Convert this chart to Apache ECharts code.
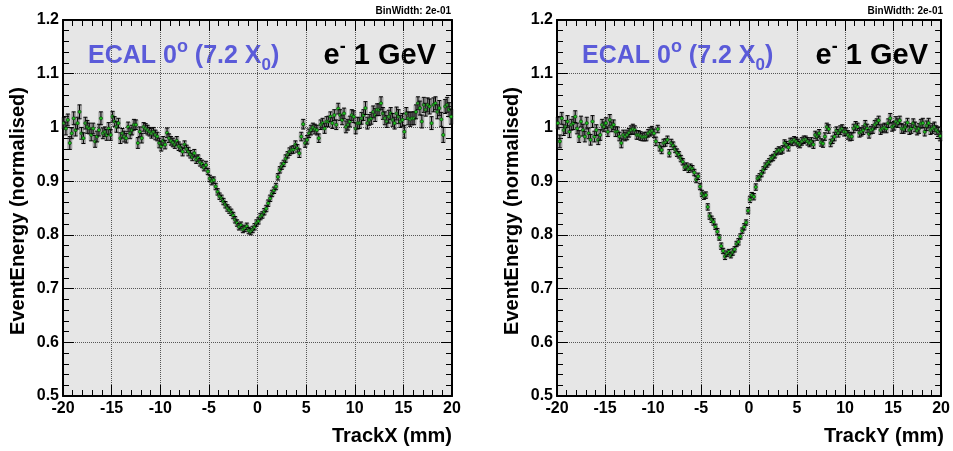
<!DOCTYPE html>
<html><head><meta charset="utf-8">
<script src="https://cdn.jsdelivr.net/npm/echarts@6/dist/echarts.min.js"></script>
<style>html,body{margin:0;padding:0;background:#fff}#c{width:953px;height:451px}</style>
</head><body><div id="c"></div>
<script>
const xMin = -20, xMax = 20, binWidth = 0.2;
const xInterval = 5;
const yMin = 0.5, yMax = 1.2, yInterval = 0.1;
const xTitleLeft = 'TrackX (mm)';
const xTitleRight = 'TrackY (mm)';
const yTitle = 'EventEnergy (normalised)';
const binLabel = 'BinWidth: 2e-01';

// EventEnergy vs TrackX (left panel)
const energyX = [
1.008,0.998,1.014,0.971,0.989,1.017,0.995,1.008,1.029,0.989,
0.980,1.008,1.001,0.998,0.986,0.998,0.974,0.983,0.995,1.017,
0.989,0.992,0.986,0.998,0.986,1.020,1.011,1.001,1.008,0.980,
0.989,0.983,0.980,1.001,0.989,0.995,1.005,1.005,0.971,0.992,
0.980,1.001,0.998,0.995,0.992,0.989,0.992,0.986,0.983,0.971,
0.965,0.975,0.968,0.990,0.980,0.975,0.972,0.968,0.975,0.965,
0.962,0.955,0.968,0.960,0.955,0.950,0.945,0.952,0.940,0.943,
0.935,0.932,0.925,0.930,0.918,0.905,0.900,0.902,0.890,0.880,
0.872,0.868,0.862,0.856,0.850,0.846,0.842,0.836,0.828,0.822,
0.815,0.818,0.810,0.812,0.816,0.808,0.806,0.810,0.815,0.822,
0.826,0.834,0.837,0.843,0.849,0.859,0.868,0.877,0.883,0.890,
0.908,0.921,0.928,0.933,0.942,0.949,0.955,0.958,0.959,0.968,
0.961,0.952,0.983,1.006,0.971,0.977,0.989,0.995,1.000,0.997,
0.995,0.980,1.005,1.008,0.998,1.011,1.011,1.020,1.008,1.023,
1.005,1.035,1.023,1.014,1.026,1.001,1.005,1.011,1.023,1.020,
0.998,1.008,1.008,1.017,1.023,1.036,1.008,1.014,1.017,1.029,
1.023,1.033,1.033,1.045,1.026,1.017,1.011,1.020,1.026,1.014,
1.008,1.026,1.020,1.011,1.014,0.992,1.026,1.017,1.015,1.017,
1.017,1.029,1.045,1.036,1.011,1.042,1.033,1.042,1.039,1.008,
1.042,1.045,1.029,1.036,1.015,0.986,1.039,1.042,1.033,1.020];
const errX = [
0.011,0.012,0.011,0.012,0.010,0.012,0.011,0.011,0.013,0.011,
0.010,0.011,0.012,0.010,0.011,0.010,0.011,0.010,0.011,0.012,
0.010,0.009,0.010,0.011,0.010,0.010,0.009,0.010,0.009,0.010,
0.009,0.010,0.009,0.009,0.010,0.009,0.010,0.009,0.010,0.009,
0.009,0.008,0.009,0.009,0.008,0.009,0.008,0.009,0.008,0.009,
0.009,0.008,0.008,0.009,0.008,0.008,0.008,0.007,0.008,0.008,
0.007,0.008,0.007,0.007,0.008,0.007,0.007,0.007,0.007,0.006,
0.007,0.007,0.006,0.007,0.006,0.006,0.007,0.006,0.006,0.006,
0.006,0.006,0.006,0.006,0.006,0.006,0.006,0.006,0.006,0.006,
0.006,0.006,0.006,0.006,0.006,0.006,0.006,0.006,0.006,0.006,
0.006,0.006,0.006,0.006,0.006,0.006,0.006,0.006,0.006,0.006,
0.006,0.006,0.006,0.006,0.007,0.006,0.007,0.007,0.007,0.007,
0.007,0.008,0.008,0.009,0.008,0.008,0.008,0.009,0.008,0.009,
0.009,0.008,0.009,0.009,0.009,0.009,0.010,0.009,0.010,0.010,
0.009,0.010,0.010,0.009,0.010,0.011,0.010,0.010,0.010,0.011,
0.010,0.011,0.010,0.011,0.010,0.012,0.011,0.010,0.011,0.011,
0.012,0.011,0.011,0.012,0.011,0.012,0.011,0.012,0.011,0.012,
0.011,0.012,0.013,0.011,0.012,0.012,0.011,0.012,0.013,0.012,
0.012,0.013,0.012,0.013,0.012,0.014,0.012,0.013,0.014,0.012,
0.013,0.012,0.013,0.014,0.013,0.014,0.013,0.014,0.013,0.014];

// EventEnergy vs TrackY (right panel)
const energyY = [
1.008,0.974,1.017,0.995,1.001,1.011,0.992,1.005,1.008,1.020,
0.998,0.983,1.011,0.995,0.983,1.008,0.989,0.977,1.011,0.983,
0.995,0.977,0.986,1.005,1.001,1.008,0.992,1.014,1.001,1.005,
0.992,0.992,0.983,0.971,0.986,0.983,0.986,0.990,0.995,0.997,
0.995,0.986,0.986,0.984,0.982,0.983,0.983,0.989,0.992,0.994,
0.989,0.974,0.997,0.964,0.958,0.971,0.972,0.977,0.952,0.971,
0.966,0.959,0.953,0.949,0.942,0.936,0.926,0.928,0.922,0.926,
0.923,0.916,0.903,0.909,0.890,0.877,0.872,0.874,0.852,0.835,
0.829,0.824,0.815,0.806,0.795,0.779,0.770,0.760,0.765,0.768,
0.762,0.768,0.773,0.783,0.787,0.797,0.808,0.815,0.823,0.845,
0.866,0.874,0.871,0.889,0.905,0.908,0.914,0.921,0.928,0.932,
0.936,0.942,0.944,0.949,0.955,0.958,0.956,0.959,0.971,0.968,
0.963,0.974,0.973,0.977,0.974,0.971,0.968,0.974,0.977,0.978,
0.974,0.971,0.974,0.968,0.986,0.983,0.989,0.972,0.970,0.983,
1.001,0.997,0.971,0.977,0.983,0.994,0.989,0.995,0.998,0.992,
0.992,0.986,0.983,0.983,0.998,1.003,1.001,0.990,0.992,0.995,
1.005,0.998,0.988,0.995,0.997,1.005,1.008,1.013,0.995,0.998,
1.000,0.998,1.008,1.017,1.001,1.003,1.011,1.008,1.013,0.998,
0.997,1.001,1.009,0.995,0.998,1.008,1.001,0.994,0.998,1.007,
1.008,0.992,1.003,1.008,0.995,0.998,1.001,0.995,0.992,0.984];
const errY = [
0.011,0.012,0.011,0.010,0.012,0.011,0.011,0.010,0.012,0.011,
0.010,0.011,0.010,0.011,0.010,0.011,0.010,0.010,0.011,0.010,
0.010,0.009,0.010,0.010,0.009,0.010,0.009,0.010,0.009,0.009,
0.009,0.009,0.008,0.009,0.009,0.008,0.009,0.008,0.008,0.009,
0.008,0.008,0.008,0.008,0.007,0.008,0.008,0.007,0.008,0.008,
0.008,0.008,0.007,0.008,0.007,0.007,0.007,0.007,0.007,0.007,
0.007,0.006,0.007,0.006,0.006,0.006,0.006,0.006,0.006,0.006,
0.006,0.006,0.006,0.006,0.006,0.006,0.006,0.006,0.006,0.006,
0.006,0.006,0.005,0.006,0.005,0.006,0.005,0.006,0.005,0.005,
0.005,0.006,0.005,0.005,0.006,0.005,0.005,0.006,0.005,0.006,
0.006,0.005,0.006,0.006,0.005,0.006,0.006,0.006,0.006,0.006,
0.006,0.006,0.006,0.006,0.006,0.006,0.006,0.007,0.006,0.006,
0.007,0.006,0.007,0.006,0.007,0.007,0.006,0.007,0.007,0.006,
0.007,0.007,0.007,0.007,0.007,0.007,0.007,0.007,0.007,0.007,
0.007,0.008,0.007,0.007,0.008,0.007,0.007,0.008,0.007,0.008,
0.007,0.008,0.008,0.007,0.008,0.008,0.007,0.008,0.008,0.008,
0.008,0.008,0.008,0.007,0.008,0.008,0.008,0.008,0.008,0.008,
0.008,0.008,0.008,0.009,0.008,0.008,0.009,0.008,0.008,0.009,
0.008,0.009,0.008,0.008,0.009,0.008,0.009,0.008,0.009,0.008,
0.009,0.008,0.009,0.009,0.008,0.009,0.009,0.008,0.009,0.009];

const FONT = '"Liberation Sans", Arial, Helvetica, sans-serif';
const binCenters = energyX.map((_, i) => +(xMin + binWidth * (i + 0.5)).toFixed(2));
const rows = (vals, errs) => vals.map((v, i) => [binCenters[i], v, errs[i]]);

function renderPoint(params, api) {
  const x = api.value(0), y = api.value(1), e = api.value(2);
  const p = api.coord([x, y]);
  const hi = api.coord([x, y + e]);
  const lo = api.coord([x, y - e]);
  return {
    type: 'group',
    children: [
      { type: 'rect', shape: { x: p[0] - 2.5, y: hi[1], width: 5, height: lo[1] - hi[1] },
        style: { fill: 'rgba(70,70,70,0.4)' } },
      { type: 'line', shape: { x1: p[0], y1: hi[1], x2: p[0], y2: lo[1] },
        style: { stroke: '#000', lineWidth: 1 } },
      { type: 'line', shape: { x1: p[0] - 2, y1: hi[1], x2: p[0] + 2, y2: hi[1] },
        style: { stroke: '#000', lineWidth: 1 } },
      { type: 'line', shape: { x1: p[0] - 2, y1: lo[1], x2: p[0] + 2, y2: lo[1] },
        style: { stroke: '#000', lineWidth: 1 } },
      { type: 'circle', shape: { cx: p[0], cy: p[1], r: 1.6 },
        style: { fill: '#1ec41e', stroke: '#0b3d0b', lineWidth: 0.7 } }
    ]
  };
}

const axisLineS = { show: true, onZero: false, lineStyle: { color: '#000', width: 2 } };
const tickS = { show: true, inside: true, length: 11, lineStyle: { color: '#000', width: 1 } };
const minorS = { show: true, splitNumber: 5, length: 6, lineStyle: { color: '#000', width: 1 } };
const gridLineS = { show: true, lineStyle: { type: 'dotted', color: '#555', width: 1 } };
const labelS = { show: true, fontSize: 16, fontWeight: 'bold', color: '#000', fontFamily: FONT, margin: 5,
  showMinLabel: true, showMaxLabel: true };

function xAxes(gi) {
  return [
    { gridIndex: gi, type: 'value', min: xMin, max: xMax, interval: xInterval, position: 'bottom',
      axisLine: axisLineS, axisTick: tickS, minorTick: minorS, axisLabel: labelS, splitLine: gridLineS },
    { gridIndex: gi, type: 'value', min: xMin, max: xMax, interval: xInterval, position: 'top',
      axisLine: axisLineS, axisTick: tickS, minorTick: minorS, axisLabel: { show: false }, splitLine: { show: false } }
  ];
}
function yAxes(gi) {
  return [
    { gridIndex: gi, type: 'value', min: yMin, max: yMax, interval: yInterval, position: 'left',
      axisLine: axisLineS, axisTick: tickS, minorTick: minorS, axisLabel: Object.assign({}, labelS, { margin: 4 }), splitLine: gridLineS },
    { gridIndex: gi, type: 'value', min: yMin, max: yMax, interval: yInterval, position: 'right',
      axisLine: axisLineS, axisTick: tickS, minorTick: minorS, axisLabel: { show: false }, splitLine: { show: false } }
  ];
}

const titleRich = {
  t: { fontSize: 25, fontWeight: 'bold', fontFamily: FONT, fill: '#5b5bd9', lineHeight: 36 },
  s: { fontSize: 18, fontWeight: 'bold', fontFamily: FONT, fill: '#5b5bd9', lineHeight: 28, verticalAlign: 'top' },
  b: { fontSize: 17, fontWeight: 'bold', fontFamily: FONT, fill: '#5b5bd9', lineHeight: 17, verticalAlign: 'bottom' }
};
const beamRich = {
  m: { fontSize: 29, fontWeight: 'bold', fontFamily: FONT, fill: '#000', lineHeight: 36 },
  s: { fontSize: 18, fontWeight: 'bold', fontFamily: FONT, fill: '#000', lineHeight: 22, verticalAlign: 'top' }
};

function panelTexts(left, right, xTitle) {
  return [
    { type: 'text', x: left + 25, y: 56, style: { text: '{t|ECAL 0}{s|o}{t| (7.2 X}{b|0}{t|)}', rich: titleRich,
      align: 'left', textAlign: 'left', verticalAlign: 'middle', textVerticalAlign: 'middle' } },
    { type: 'text', x: right - 16, y: 56, style: { text: '{m|e}{s|-}{m| 1 GeV}', rich: beamRich,
      align: 'right', textAlign: 'right', verticalAlign: 'middle', textVerticalAlign: 'middle' } },
    { type: 'text', x: right - 1, y: 11, style: { text: binLabel, font: 'bold 10px ' + FONT, fill: '#000',
      align: 'right', textAlign: 'right', verticalAlign: 'middle', textVerticalAlign: 'middle' } },
    { type: 'text', x: right, y: 436, style: { text: xTitle, font: 'bold 20px ' + FONT, fill: '#000',
      align: 'right', textAlign: 'right', verticalAlign: 'middle', textVerticalAlign: 'middle' } },
    { type: 'text', x: left - 45, y: 211, rotation: Math.PI / 2, style: { text: yTitle, font: 'bold 20px ' + FONT, fill: '#000',
      align: 'center', textAlign: 'center', verticalAlign: 'middle', textVerticalAlign: 'middle' } }
  ];
}

const chart = echarts.init(document.getElementById('c'), null, { renderer: 'canvas' });
chart.setOption({
  animation: false,
  backgroundColor: '#fff',
  grid: [
    { left: 63, top: 20, width: 389, height: 376, show: true, backgroundColor: '#e6e6e6', borderWidth: 0 },
    { left: 557, top: 20, width: 387, height: 376, show: true, backgroundColor: '#e6e6e6', borderWidth: 0 }
  ],
  xAxis: xAxes(0).concat(xAxes(1)),
  yAxis: yAxes(0).concat(yAxes(1)),
  series: [
    { type: 'custom', xAxisIndex: 0, yAxisIndex: 0, data: rows(energyX, errX), renderItem: renderPoint },
    { type: 'custom', xAxisIndex: 2, yAxisIndex: 2, data: rows(energyY, errY), renderItem: renderPoint }
  ],
  graphic: panelTexts(63, 452, xTitleLeft).concat(panelTexts(557, 944, xTitleRight))
});
</script></body></html>
